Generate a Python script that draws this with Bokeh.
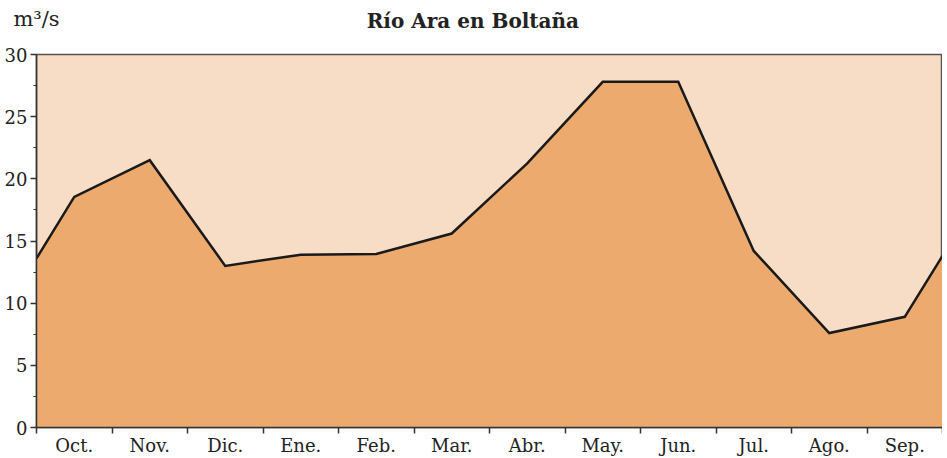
from bokeh.plotting import figure
from bokeh.models import FixedTicker, LinearAxis
from bokeh.embed import file_html
from bokeh.resources import INLINE

months = ["Oct.", "Nov.", "Dic.", "Ene.", "Feb.", "Mar.", "Abr.", "May.", "Jun.", "Jul.", "Ago.", "Sep."]
flow = [18.55, 21.5, 13.0, 13.9, 13.95, 15.6, 21.25, 27.8, 27.8, 14.2, 7.6, 8.9]
edge_start = 13.6   # value at start of Oct. (left edge)
edge_end = 13.8     # value at end of Sep. (right edge)
y_ticks = [0, 5, 10, 15, 20, 25, 30]
title_text = "Río Ara en Boltaña"
unit_text = "m³/s"

n = len(months)
centers = [i + 0.5 for i in range(n)]
bounds = list(range(n + 1))
xs = [0] + centers + [n]
ys = [edge_start] + flow + [edge_end]

FONT = "DejaVu Serif"
TITLE_POS = 5.78    # horizontal centre of the title (layout position, month units)
UNIT_POS = 0        # horizontal centre of the unit text (layout position, month units)

p = figure(width=942, height=458, x_range=(0, n), y_range=(0, 30),
           output_backend="svg", toolbar_location=None,
           min_border_left=36, min_border_right=0, min_border_top=54, min_border_bottom=10)
p.background_fill_color = "#F8DDC6"
p.border_fill_color = "white"
p.grid.visible = False
p.outline_line_color = "#555555"
p.outline_line_width = 1.5

p.varea(x=xs, y1=0, y2=ys, fill_color="#ECAA6E", fill_alpha=1)
p.line(x=xs, y=ys, line_color="#1a1a1a", line_width=2.5, line_join="miter")

# x axis: labels at month centres, ticks at month boundaries
xa = p.xaxis[0]
xa.ticker = FixedTicker(ticks=centers, minor_ticks=bounds)
xa.major_label_overrides = {c: m for c, m in zip(centers, months)}
xa.major_tick_out = 0
xa.major_tick_in = 0
xa.minor_tick_out = 6
xa.minor_tick_in = 0
xa.minor_tick_line_color = "#333333"
xa.minor_tick_line_width = 1.5
xa.axis_line_color = "#333333"
xa.axis_line_width = 1.5
xa.major_label_text_font = FONT
xa.major_label_text_font_size = "18px"
xa.major_label_text_color = "#222222"
xa.major_label_standoff = 1

ya = p.yaxis[0]
ya.ticker = FixedTicker(ticks=y_ticks, minor_ticks=[v + 2.5 for v in y_ticks[:-1]])
ya.major_tick_out = 6
ya.major_tick_in = 0
ya.minor_tick_out = 3
ya.minor_tick_in = 0
ya.major_tick_line_color = "#333333"
ya.minor_tick_line_color = "#333333"
ya.major_tick_line_width = 1.5
ya.axis_line_color = "#333333"
ya.axis_line_width = 1.5
ya.major_label_text_font = FONT
ya.major_label_text_font_size = "18px"
ya.major_label_text_color = "#222222"
ya.major_label_standoff = 3

common = dict(axis_line_color=None, major_tick_line_color=None, minor_tick_line_color=None,
              major_tick_out=0, major_tick_in=0, minor_tick_out=0, minor_tick_in=0,
              major_label_text_font=FONT, major_label_text_color="#222222")

# title row (nearest the frame)
title_axis = LinearAxis(ticker=FixedTicker(ticks=[TITLE_POS]),
                        major_label_overrides={TITLE_POS: title_text},
                        major_label_standoff=22, major_label_text_font_size="20px",
                        major_label_text_font_style="bold", **common)
p.add_layout(title_axis, "above")

# unit row (outer panel, pulled down onto the title row)
unit_axis = LinearAxis(ticker=FixedTicker(ticks=[UNIT_POS]),
                       major_label_overrides={UNIT_POS: unit_text},
                       major_label_standoff=-25, major_label_text_font_size="21px",
                       **common)
p.add_layout(unit_axis, "above")

open("out.html", "w").write(file_html(p, INLINE))
